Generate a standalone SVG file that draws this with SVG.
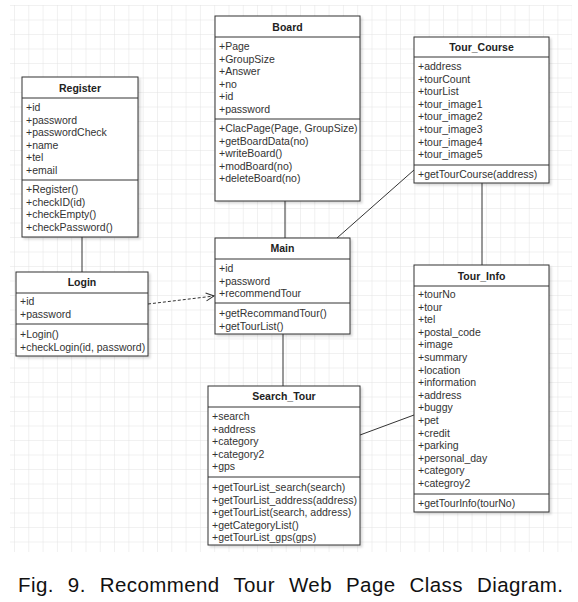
<svg xmlns="http://www.w3.org/2000/svg" width="578" height="602" viewBox="0 0 578 602">
<defs>
<pattern id="grid" x="14" y="5" width="14.3" height="14.5" patternUnits="userSpaceOnUse">
<path d="M 0 0 L 0 14.5 M 0 0 L 14.3 0" fill="none" stroke="#e3e3e3" stroke-width="1"/>
</pattern>
<filter id="sh" x="-10%" y="-10%" width="130%" height="130%">
<feDropShadow dx="2" dy="2" stdDeviation="1" flood-color="#000" flood-opacity="0.15"/>
</filter>
<marker id="open" markerWidth="10" markerHeight="10" refX="9" refY="5" orient="auto" markerUnits="userSpaceOnUse">
<path d="M1 1 L9 5 L1 9" fill="none" stroke="#333" stroke-width="1"/>
</marker>
</defs>
<style>
.box{fill:#fff;stroke:#333;stroke-width:1;filter:url(#sh)}
.ln{stroke:#333;stroke-width:1;fill:none}
.t{font-family:"Liberation Sans",Arial,sans-serif;font-size:10.5px;fill:#333}
.h{font-family:"Liberation Sans",Arial,sans-serif;font-size:10.5px;font-weight:bold;fill:#222;text-anchor:middle}
.cap{font-family:"Liberation Sans",Arial,sans-serif;font-size:20.5px;fill:#111;word-spacing:8px;letter-spacing:0.4px}
</style>
<rect x="0" y="0" width="578" height="602" fill="#fff"/>
<rect x="10" y="5" width="562" height="547" fill="url(#grid)"/>

<g id="connectors">
<line class="ln" x1="285" y1="201" x2="285" y2="238"/>
<line class="ln" x1="414" y1="170" x2="337" y2="238"/>
<line class="ln" x1="482" y1="183" x2="482" y2="265"/>
<line class="ln" x1="82" y1="237" x2="82" y2="272"/>
<line class="ln" x1="283" y1="334" x2="283" y2="386"/>
<line class="ln" x1="360" y1="435" x2="414" y2="415"/>
<line class="ln" x1="148" y1="304" x2="214" y2="296" stroke-dasharray="3 2" marker-end="url(#open)"/>
</g>

<g id="Board">
<rect class="box" x="215" y="16" width="145" height="185"/>
<line class="ln" x1="215" y1="37" x2="360" y2="37"/>
<line class="ln" x1="215" y1="119" x2="360" y2="119"/>
<text class="h" x="287.5" y="30.5">Board</text>
<text class="t" x="219" y="50">+Page</text>
<text class="t" x="219" y="62.6">+GroupSize</text>
<text class="t" x="219" y="75.2">+Answer</text>
<text class="t" x="219" y="87.8">+no</text>
<text class="t" x="219" y="100.4">+id</text>
<text class="t" x="219" y="113">+password</text>
<text class="t" x="219" y="132">+ClacPage(Page, GroupSize)</text>
<text class="t" x="219" y="144.6">+getBoardData(no)</text>
<text class="t" x="219" y="157.2">+writeBoard()</text>
<text class="t" x="219" y="169.8">+modBoard(no)</text>
<text class="t" x="219" y="182.4">+deleteBoard(no)</text>
</g>

<g id="Tour_Course">
<rect class="box" x="414" y="37" width="135" height="146"/>
<line class="ln" x1="414" y1="57" x2="549" y2="57"/>
<line class="ln" x1="414" y1="165" x2="549" y2="165"/>
<text class="h" x="481.5" y="51">Tour_Course</text>
<text class="t" x="418" y="70">+address</text>
<text class="t" x="418" y="82.6">+tourCount</text>
<text class="t" x="418" y="95.2">+tourList</text>
<text class="t" x="418" y="107.8">+tour_image1</text>
<text class="t" x="418" y="120.4">+tour_image2</text>
<text class="t" x="418" y="133">+tour_image3</text>
<text class="t" x="418" y="145.6">+tour_image4</text>
<text class="t" x="418" y="158.2">+tour_image5</text>
<text class="t" x="418" y="178">+getTourCourse(address)</text>
</g>

<g id="Register">
<rect class="box" x="22" y="77" width="116" height="160"/>
<line class="ln" x1="22" y1="98" x2="138" y2="98"/>
<line class="ln" x1="22" y1="180" x2="138" y2="180"/>
<text class="h" x="80" y="92">Register</text>
<text class="t" x="26" y="111">+id</text>
<text class="t" x="26" y="123.6">+password</text>
<text class="t" x="26" y="136.2">+passwordCheck</text>
<text class="t" x="26" y="148.8">+name</text>
<text class="t" x="26" y="161.4">+tel</text>
<text class="t" x="26" y="174">+email</text>
<text class="t" x="26" y="193">+Register()</text>
<text class="t" x="26" y="205.6">+checkID(id)</text>
<text class="t" x="26" y="218.2">+checkEmpty()</text>
<text class="t" x="26" y="230.8">+checkPassword()</text>
</g>

<g id="Login">
<rect class="box" x="16" y="272" width="132" height="84"/>
<line class="ln" x1="16" y1="293" x2="148" y2="293"/>
<line class="ln" x1="16" y1="324" x2="148" y2="324"/>
<text class="h" x="82" y="286">Login</text>
<text class="t" x="20" y="305">+id</text>
<text class="t" x="20" y="317.6">+password</text>
<text class="t" x="20" y="338">+Login()</text>
<text class="t" x="20" y="350.6">+checkLogin(id, password)</text>
</g>

<g id="Main">
<rect class="box" x="215" y="238" width="135" height="96"/>
<line class="ln" x1="215" y1="259" x2="350" y2="259"/>
<line class="ln" x1="215" y1="303" x2="350" y2="303"/>
<text class="h" x="282.5" y="252">Main</text>
<text class="t" x="219" y="272">+id</text>
<text class="t" x="219" y="284.6">+password</text>
<text class="t" x="219" y="297.2">+recommendTour</text>
<text class="t" x="219" y="317">+getRecommandTour()</text>
<text class="t" x="219" y="329.6">+getTourList()</text>
</g>

<g id="Tour_Info">
<rect class="box" x="414" y="265" width="135" height="247"/>
<line class="ln" x1="414" y1="286" x2="549" y2="286"/>
<line class="ln" x1="414" y1="494" x2="549" y2="494"/>
<text class="h" x="481.5" y="280">Tour_Info</text>
<text class="t" x="418" y="298">+tourNo</text>
<text class="t" x="418" y="310.6">+tour</text>
<text class="t" x="418" y="323.2">+tel</text>
<text class="t" x="418" y="335.8">+postal_code</text>
<text class="t" x="418" y="348.4">+image</text>
<text class="t" x="418" y="361">+summary</text>
<text class="t" x="418" y="373.6">+location</text>
<text class="t" x="418" y="386.2">+information</text>
<text class="t" x="418" y="398.8">+address</text>
<text class="t" x="418" y="411.4">+buggy</text>
<text class="t" x="418" y="424">+pet</text>
<text class="t" x="418" y="436.6">+credit</text>
<text class="t" x="418" y="449.2">+parking</text>
<text class="t" x="418" y="461.8">+personal_day</text>
<text class="t" x="418" y="474.4">+category</text>
<text class="t" x="418" y="487">+categroy2</text>
<text class="t" x="418" y="507">+getTourInfo(tourNo)</text>
</g>

<g id="Search_Tour">
<rect class="box" x="208" y="386" width="152" height="159"/>
<line class="ln" x1="208" y1="407" x2="360" y2="407"/>
<line class="ln" x1="208" y1="477" x2="360" y2="477"/>
<text class="h" x="284" y="400">Search_Tour</text>
<text class="t" x="212" y="420">+search</text>
<text class="t" x="212" y="432.6">+address</text>
<text class="t" x="212" y="445.2">+category</text>
<text class="t" x="212" y="457.8">+category2</text>
<text class="t" x="212" y="470.4">+gps</text>
<text class="t" x="212" y="491">+getTourList_search(search)</text>
<text class="t" x="212" y="503.6">+getTourList_address(address)</text>
<text class="t" x="212" y="516.2">+getTourList(search, address)</text>
<text class="t" x="212" y="528.8">+getCategoryList()</text>
<text class="t" x="212" y="541.4">+getTourList_gps(gps)</text>
</g>

<text class="cap" x="18" y="592">Fig. 9. Recommend Tour Web Page Class Diagram.</text>
</svg>
